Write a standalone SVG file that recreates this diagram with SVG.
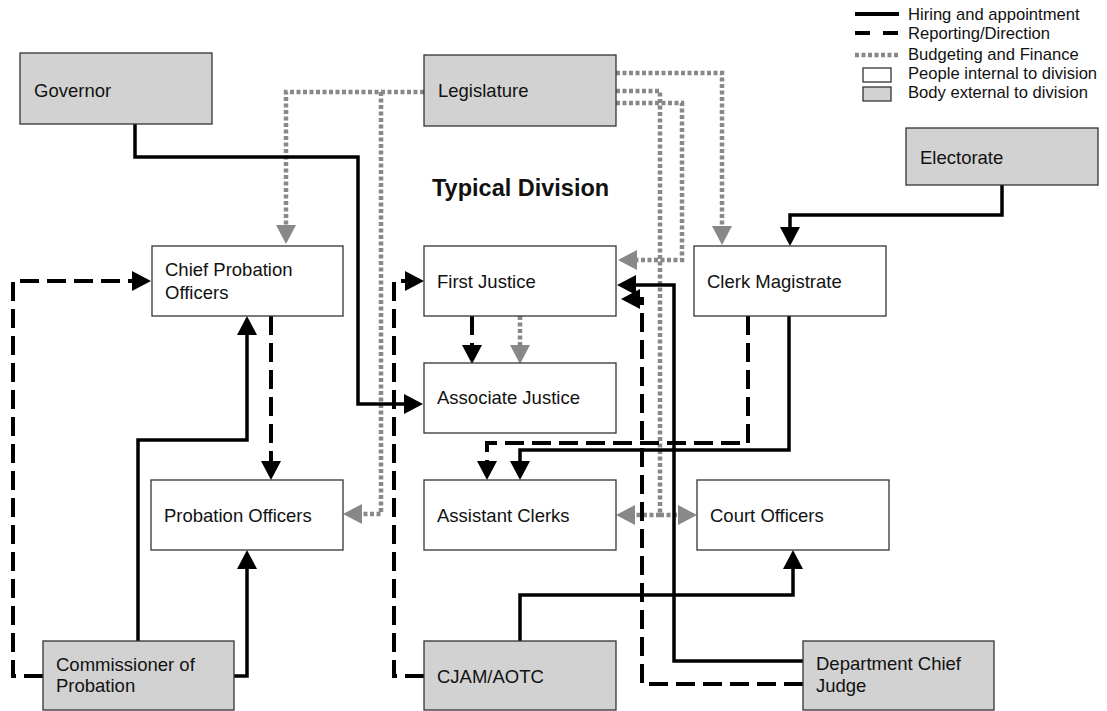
<svg xmlns="http://www.w3.org/2000/svg" width="1107" height="711" viewBox="0 0 1107 711">
<style>
.box{stroke:#333;stroke-width:1.3}
.int{fill:#fff}
.ext{fill:#d2d2d2}
.t{font-family:"Liberation Sans",Arial,sans-serif;font-size:18.5px;fill:#111}
.lg{font-family:"Liberation Sans",Arial,sans-serif;font-size:16.6px;fill:#111}
.title{font-family:"Liberation Sans",Arial,sans-serif;font-size:23.5px;font-weight:bold;fill:#111}
.solid{fill:none;stroke:#000;stroke-width:3.5}
.dash{fill:none;stroke:#000;stroke-width:4;stroke-dasharray:19 8}
.dot{fill:none;stroke:#888;stroke-width:4.5;stroke-dasharray:4 2.5}
</style>
<defs>
<marker id="ab" markerUnits="userSpaceOnUse" markerWidth="19" markerHeight="20" viewBox="0 0 19 20" refX="1" refY="10" orient="auto"><path d="M0,0 L19,10 L0,20 z" fill="#000"/></marker>
<marker id="ag" markerUnits="userSpaceOnUse" markerWidth="19" markerHeight="20" viewBox="0 0 19 20" refX="1" refY="10" orient="auto"><path d="M0,0 L19,10 L0,20 z" fill="#888"/></marker>
</defs>
<rect width="1107" height="711" fill="#fff"/>

<g id="legend">
<line x1="855" y1="14" x2="899" y2="14" class="solid" style="stroke-width:4"/>
<line x1="855" y1="33" x2="899" y2="33" style="stroke:#000;stroke-width:4;stroke-dasharray:15 13"/>
<line x1="855" y1="55" x2="899" y2="55" class="dot"/>
<rect x="863" y="68" width="28" height="14" class="box int"/>
<rect x="863" y="87" width="28" height="14" class="box ext"/>
<text x="908" y="20" class="lg">Hiring and appointment</text>
<text x="908" y="39" class="lg">Reporting/Direction</text>
<text x="908" y="60" class="lg">Budgeting and Finance</text>
<text x="908" y="79" class="lg">People internal to division</text>
<text x="908" y="98" class="lg">Body external to division</text>
</g>

<text x="432" y="196" class="title">Typical Division</text>

<g id="connectors">
<!-- budgeting (gray dotted) -->
<path class="dot" d="M424,92 H286 V226" marker-end="url(#ag)"/>
<path class="dot" d="M381,92 V514 H361" marker-end="url(#ag)"/>
<path class="dot" d="M616,73 H722 V227" marker-end="url(#ag)"/>
<path class="dot" d="M616,103 H682 V260 H636" marker-end="url(#ag)"/>
<path class="dot" d="M616,91 H660 V515 H634" marker-end="url(#ag)"/>
<path class="dot" d="M660,515 H679" marker-end="url(#ag)"/>
<path class="dot" d="M520,316 V346" marker-end="url(#ag)"/>
<!-- hiring (solid) -->
<path class="solid" d="M135,124 V157 H358 V404 H405" marker-end="url(#ab)"/>
<path class="solid" d="M138,641 V440 H247 V334" marker-end="url(#ab)"/>
<path class="solid" d="M234,676 H247 V568" marker-end="url(#ab)"/>
<path class="solid" d="M789,316 V450 H520 V462" marker-end="url(#ab)"/>
<path class="solid" d="M520,641 V595 H793 V568" marker-end="url(#ab)"/>
<path class="solid" d="M803,661 H674 V285 H635" marker-end="url(#ab)"/>
<path class="solid" d="M1002,185 V215 H790 V228" marker-end="url(#ab)"/>
<!-- reporting (dashed) -->
<path class="dash" d="M43,676 H13 V281 H133" marker-end="url(#ab)"/>
<path class="dash" d="M271,316 V462" marker-end="url(#ab)"/>
<path class="dash" d="M424,676 H394 V281 H406" marker-end="url(#ab)"/>
<path class="dash" d="M472,316 V346" marker-end="url(#ab)"/>
<path class="dash" d="M748,316 V443 H487 V462" marker-end="url(#ab)"/>
<path class="dash" d="M803,684 H642 V299 H639" marker-end="url(#ab)"/>
</g>

<g id="governor"><rect x="20" y="53" width="192" height="71" class="box ext"/><text x="34" y="97" class="t">Governor</text></g>
<g id="legislature"><rect x="424" y="55" width="192" height="71" class="box ext"/><text x="438" y="97" class="t">Legislature</text></g>
<g id="electorate"><rect x="906" y="128" width="192" height="57" class="box ext"/><text x="920" y="164" class="t">Electorate</text></g>
<g id="chief-probation"><rect x="152" y="246" width="191" height="70" class="box int"/><text x="165" y="276" class="t">Chief Probation</text><text x="165" y="299" class="t">Officers</text></g>
<g id="first-justice"><rect x="424" y="246" width="192" height="70" class="box int"/><text x="437" y="288" class="t">First Justice</text></g>
<g id="clerk-magistrate"><rect x="694" y="246" width="192" height="70" class="box int"/><text x="707" y="288" class="t">Clerk Magistrate</text></g>
<g id="associate-justice"><rect x="424" y="363" width="192" height="70" class="box int"/><text x="437" y="404" class="t">Associate Justice</text></g>
<g id="probation-officers"><rect x="151" y="480" width="192" height="70" class="box int"/><text x="164" y="522" class="t">Probation Officers</text></g>
<g id="assistant-clerks"><rect x="424" y="480" width="192" height="70" class="box int"/><text x="437" y="522" class="t">Assistant Clerks</text></g>
<g id="court-officers"><rect x="697" y="480" width="192" height="70" class="box int"/><text x="710" y="522" class="t">Court Officers</text></g>
<g id="commissioner"><rect x="43" y="641" width="191" height="69" class="box ext"/><text x="56" y="671" class="t">Commissioner of</text><text x="56" y="692" class="t">Probation</text></g>
<g id="cjam-aotc"><rect x="424" y="641" width="192" height="69" class="box ext"/><text x="437" y="683" class="t">CJAM/AOTC</text></g>
<g id="dept-chief-judge"><rect x="803" y="641" width="191" height="69" class="box ext"/><text x="816" y="670" class="t">Department Chief</text><text x="816" y="692" class="t">Judge</text></g>
</svg>
